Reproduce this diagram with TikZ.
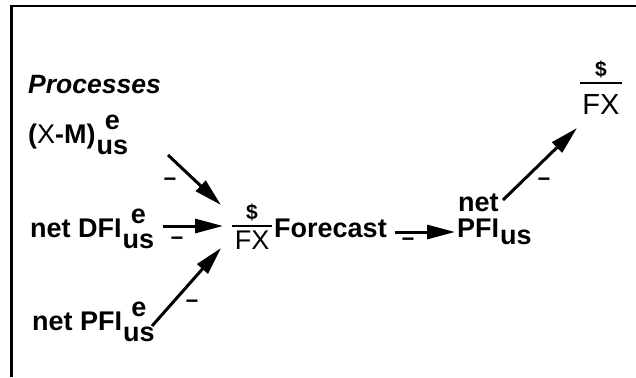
\documentclass[tikz,border=0pt]{standalone}
\usepackage{fontspec}
\setmainfont{Liberation Sans}
\usetikzlibrary{arrows.meta}
\newlength\sslen
\newcommand{\supsub}[2]{\hspace{1pt}\settowidth{\sslen}{#2}\makebox[0pt][l]{\makebox[\sslen][c]{\raisebox{14pt}{#1}}}\raisebox{-11pt}{#2}}
\begin{document}
\begin{tikzpicture}[x=1pt,y=-1pt,
  txt/.style={inner sep=0pt, font=\fontsize{27}{27}\selectfont\bfseries, anchor=base west},
  dollar/.style={inner sep=0pt, font=\fontsize{21}{21}\selectfont\bfseries},
  minus/.style={inner sep=0pt, font=\fontsize{22}{22}\selectfont\bfseries},
  bar/.style={line width=2.8pt},
  arr/.style={line width=3pt, -{Triangle[length=28pt,width=14pt]}},
]
\useasboundingbox (0,0) rectangle (636,377);
\draw[line width=2.6pt] (11.5,377) -- (11.5,6) -- (636,6);

% texts
\node[txt, font=\fontsize{26.5}{26.5}\selectfont\bfseries\itshape] (proc) at (28,93) {Processes};
\node[txt] (xm) at (28,143) {({\mdseries X}-M)\supsub{e}{us}};
\node[txt] (dfi) at (30,237) {net DFI\supsub{e}{us}};
\node[txt] (pfi) at (32,330) {net PFI\supsub{e}{us}};
\node[txt] (fc) at (274,237) {Forecast};
\node[txt] (net) at (458,211) {net};
\node[txt] (pfius) at (457,237) {PFI\hspace{1pt}\raisebox{-7pt}{us}};

% middle fraction
\coordinate (fr1) at (252,226);
\node[dollar, anchor=south] (d1) at (252,221) {\$};
\draw[bar] (232,226) -- (272,226);
\node[txt, anchor=north, font=\fontsize{27}{27}\selectfont] (f1) at (252,231) {FX};

% top fraction
\coordinate (fr2) at (601,83);
\node[dollar, anchor=south] (d2) at (601,78) {\$};
\draw[bar] (580,83) -- (622,83);
\node[txt, anchor=north, font=\fontsize{29}{29}\selectfont] (f2) at (601,94) {FX};

% arrows
\draw[arr] ([shift={(140,12)}]xm.base west) -- ([shift={(-31,-21)}]fr1);
\draw[arr] ([shift={(133,-11)}]dfi.base west) -- ([shift={(-29,0)}]fr1);
\draw[arr] ([shift={(120,-4)}]pfi.base west) -- ([shift={(-31,22)}]fr1);
\draw[arr] ([shift={(121,-5)}]fc.base west) -- ([shift={(-2,-5)}]pfius.base west);
\draw[arr] ([shift={(45,-11)}]net.base west) -- ([shift={(-24,45)}]fr2);

% minus signs
\node[minus] (m1) at (170,182) {−};
\node[minus] (m2) at (177,241) {−};
\node[minus] (m3) at (192,304) {−};
\node[minus] (m4) at (408,242) {−};
\node[minus] (m5) at (544,182) {−};
\end{tikzpicture}
\end{document}
